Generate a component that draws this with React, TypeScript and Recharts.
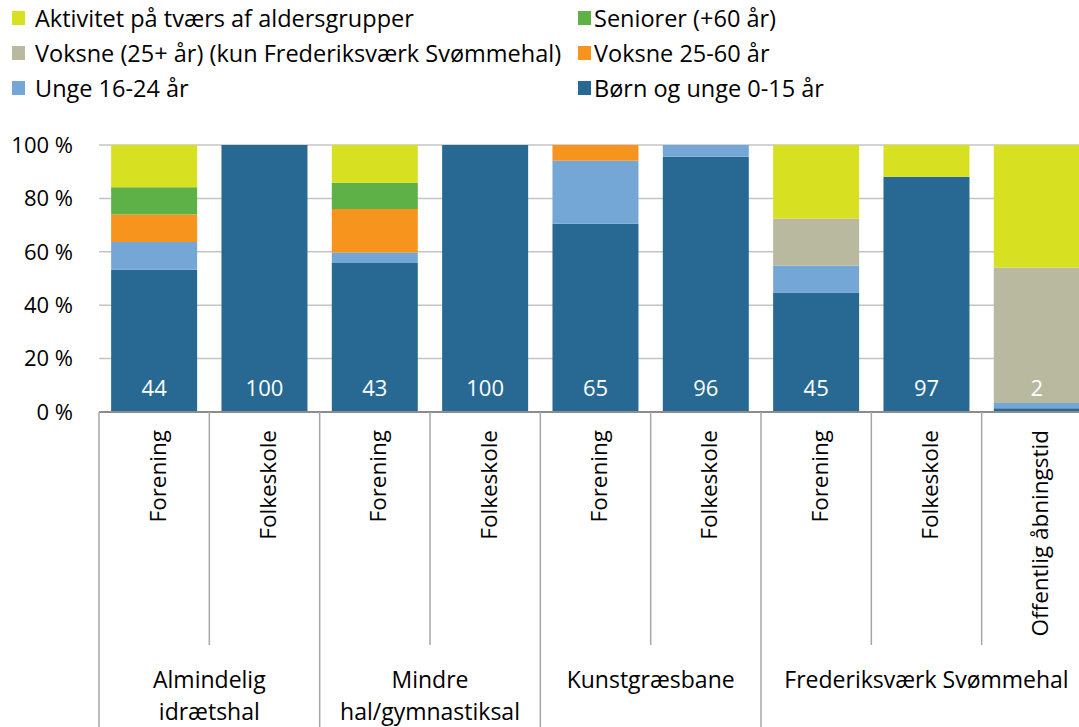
import React from 'react';
import { BarChart, Bar, XAxis, YAxis, CartesianGrid, LabelList } from 'recharts';

// categories along the x axis (first level) and the facility groups (second level)
const categories = [
  'Forening',
  'Folkeskole',
  'Forening',
  'Folkeskole',
  'Forening',
  'Folkeskole',
  'Forening',
  'Folkeskole',
  'Offentlig åbningstid',
];
const groupOf = [0, 0, 1, 1, 2, 2, 3, 3, 3];
const groupLabels = [
  ['Almindelig', 'idrætshal'],
  ['Mindre', 'hal/gymnastiksal'],
  ['Kunstgræsbane'],
  ['Frederiksværk Svømmehal'],
];

// shares in percent, bottom to top of the stack
const boernUnge = [53.3, 100, 55.8, 100, 70.5, 95.6, 44.8, 88.1, 1.4];
const unge = [10.4, 0, 3.9, 0, 23.6, 4.4, 10.0, 0, 2.0];
const voksne2560 = [10.3, 0, 16.3, 0, 5.9, 0, 0, 0, 0];
const voksne25 = [0, 0, 0, 0, 0, 0, 17.7, 0, 50.7];
const seniorer = [10.2, 0, 9.9, 0, 0, 0, 0, 0, 0];
const aktivitet = [15.8, 0, 14.1, 0, 0, 0, 27.5, 11.9, 45.9];

// number of activities behind each bar
const antal = [44, 100, 43, 100, 65, 96, 45, 97, 2];

const yTicks = [0, 20, 40, 60, 80, 100];

const series = [
  { key: 'boernUnge', name: 'Børn og unge 0-15 år', color: '#276992' },
  { key: 'unge', name: 'Unge 16-24 år', color: '#75A7D6' },
  { key: 'voksne2560', name: 'Voksne 25-60 år', color: '#F7941D' },
  { key: 'voksne25', name: 'Voksne (25+ år) (kun Frederiksværk Svømmehal)', color: '#B8B99F' },
  { key: 'seniorer', name: 'Seniorer (+60 år)', color: '#5EB146' },
  { key: 'aktivitet', name: 'Aktivitet på tværs af aldersgrupper', color: '#D7E021' },
];

// legend order as laid out in two columns
const legendOrder = ['aktivitet', 'seniorer', 'voksne25', 'voksne2560', 'unge', 'boernUnge'];

const data = categories.map((c, i) => ({
  id: 'c' + i,
  label: c,
  boernUnge: boernUnge[i],
  unge: unge[i],
  voksne2560: voksne2560[i],
  voksne25: voksne25[i],
  seniorer: seniorer[i],
  aktivitet: aktivitet[i],
  n: antal[i],
}));

const FONT = '"Open Sans", sans-serif';
const CHART_W = 1092;
const CHART_H = 727;
const Y_W = 99;
const X_H = 315;
const BAND = (CHART_W - Y_W) / categories.length;

const XTick = (props: any) => {
  const { x, y, index } = props;
  const left = x - BAND / 2;
  const g = groupOf[index];
  const isGroupStart = index === 0 || groupOf[index - 1] !== g;
  const count = groupOf.filter((v) => v === g).length;
  const groupCenter = left + (count * BAND) / 2;
  return (
    <g>
      <text
        transform={`translate(${x + 3}, ${y + 18}) rotate(-90)`}
        textAnchor="end"
        dominantBaseline="central"
        fontFamily={FONT}
        fontSize={22.5}
        fill="#000"
      >
        {categories[index]}
      </text>
      <line x1={left} x2={left} y1={y} y2={y + (isGroupStart ? X_H : 233)} stroke="#A6A6A6" strokeWidth={1.5} />
      {index === categories.length - 1 && (
        <line x1={left + BAND} x2={left + BAND} y1={y} y2={y + X_H} stroke="#A6A6A6" strokeWidth={1.5} />
      )}
      {isGroupStart &&
        groupLabels[g].map((line, li) => (
          <text
            key={li}
            x={groupCenter}
            y={y + 276 + li * 32}
            textAnchor="middle"
            fontFamily={FONT}
            fontSize={23}
            fill="#000"
          >
            {line}
          </text>
        ))}
    </g>
  );
};

const renderCount = (props: any) => {
  const { x, y, width, height, value } = props;
  return (
    <text
      x={x + width / 2}
      y={y + height - 25}
      textAnchor="middle"
      dominantBaseline="central"
      fill="#fff"
      fontFamily={FONT}
      fontSize={22}
    >
      {value}
    </text>
  );
};

const ChartLegend = () => (
  <div
    style={{
      position: 'absolute',
      left: 0,
      top: 0,
      width: 1079,
      fontFamily: FONT,
      fontSize: 23.5,
      color: '#000',
    }}
  >
    {legendOrder.map((k, i) => {
      const s = series.find((d) => d.key === k)!;
      const col = i % 2;
      const row = Math.floor(i / 2);
      return (
        <div
          key={k}
          style={{
            position: 'absolute',
            left: col === 0 ? 12 : 578,
            top: 18 + row * 35 - 15,
            height: 30,
            display: 'flex',
            alignItems: 'center',
            whiteSpace: 'nowrap',
          }}
        >
          <span style={{ width: 13, height: 14, background: s.color, display: 'inline-block', marginRight: col === 0 ? 10 : 3 }} />
          <span>{s.name}</span>
        </div>
      );
    })}
  </div>
);

export default function App() {
  return (
    <div
      style={{
        position: 'fixed',
        left: 0,
        top: 0,
        width: 1079,
        height: 727,
        overflow: 'hidden',
        background: '#fff',
      }}
    >
      <BarChart
        width={CHART_W}
        height={CHART_H}
        data={data}
        margin={{ top: 145, right: 0, left: 0, bottom: 0 }}
        barCategoryGap="11%"
      >
        <CartesianGrid vertical={false} stroke="#C4C4C4" strokeWidth={1.5} />
        <XAxis
          dataKey="id"
          height={X_H}
          interval={0}
          tickLine={false}
          tickSize={0}
          tickMargin={0}
          axisLine={{ stroke: '#8C8C8C', strokeWidth: 2 }}
          tick={<XTick />}
        />
        <YAxis
          width={Y_W}
          domain={[0, 100]}
          ticks={yTicks}
          tickFormatter={(v) => `${v} %`}
          axisLine={false}
          tickLine={false}
          tickSize={0}
          tickMargin={26}
          tick={{ fill: '#000', fontFamily: FONT, fontSize: 22 }}
        />
        {series.map((s, i) => (
          <Bar key={s.key} dataKey={s.key} name={s.name} stackId="a" fill={s.color} isAnimationActive={false}>
            {i === 0 && <LabelList dataKey="n" content={renderCount} />}
          </Bar>
        ))}
      </BarChart>
      <ChartLegend />
    </div>
  );
}
